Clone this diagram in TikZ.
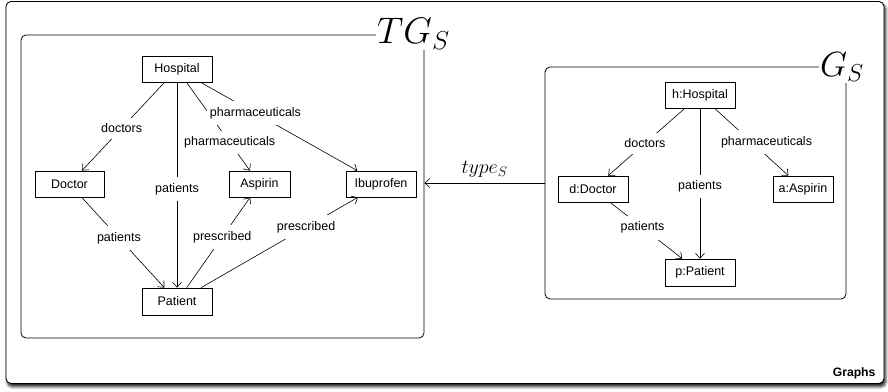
\RequirePackage{fix-cm}
\documentclass[tikz,border=0pt]{standalone}
\usepackage{fontspec}
\setmainfont{Liberation Sans}
\usetikzlibrary{arrows.meta,shadows.blur}

\tikzset{
  cls/.style={draw, line width=0.7pt, minimum height=26pt, inner sep=0pt,
    font=\fontsize{12.5}{14}\selectfont},
  lbl/.style={fill=white, inner xsep=3pt, inner ysep=6pt, font=\fontsize{12.5}{14}\selectfont},
  rel/.style={draw, line width=0.6pt, -{Straight Barb[length=5pt,width=9pt]}},
  graphbox/.style={draw, line width=0.8pt, rounded corners=5pt, inner sep=0pt},
  title/.style={fill=white, inner sep=1pt, anchor=base west},
}

\begin{document}
\begin{tikzpicture}[x=1pt,y=-1pt]
\useasboundingbox (0,0) rectangle (888,391);

% outer frame with its shadow
\draw[line width=0.9pt, rounded corners=5pt, fill=white,
  blur shadow={shadow xshift=1.5pt, shadow yshift=-3pt, shadow blur steps=6,
  shadow blur radius=3pt, shadow opacity=95}]
  (6,1.5) rectangle (884,383.5);
\node[anchor=east, font=\fontsize{12.2}{14}\selectfont\bfseries] (lab) at (879,373) {Graphs};

% ---------- type graph TG_S ----------
\node[graphbox, minimum width=403pt, minimum height=303pt] (TG) at (222.5,186.5) {};
\node[title] (tgt) at (376,43.5) {\fontsize{37}{40}\selectfont $TG_S$};

\node[cls, minimum width=70pt] (H) at (177,69) {Hospital};
\node[cls, minimum width=69pt] (D) at (69.5,184) {Doctor};
\node[cls, minimum width=61pt] (A) at (259.5,184) {Aspirin};
\node[cls, minimum width=70pt] (I) at (381,184) {Ibuprofen};
\node[cls, minimum width=70pt, minimum height=27pt] (P) at (177,301.5) {Patient};

\draw[rel] (H) -- node[lbl, pos=0.52] {doctors} (D);
\draw[rel] (H) -- node[lbl, pos=0.52] {patients} (P);
\draw[rel] (H) -- node[lbl, pos=0.68] {pharmaceuticals} (A);
\draw[rel] (H) -- node[lbl, pos=0.35] {pharmaceuticals} (I);
\draw[rel] (D) -- node[lbl, pos=0.45] {patients} (P);
\draw[rel] (P) -- node[lbl, pos=0.56] {prescribed} (A);
\draw[rel] (P) -- node[lbl, pos=0.67] {prescribed} (I);

% ---------- instance graph G_S ----------
\node[graphbox, minimum width=301pt, minimum height=232pt] (G) at (695.5,183) {};
\node[title] (gt) at (819,76.5) {\fontsize{35}{38}\selectfont $G_S$};

\node[cls, minimum width=70pt] (h) at (700,95) {h:Hospital};
\node[cls, minimum width=70pt] (d) at (593,189) {d:Doctor};
\node[cls, minimum width=60pt] (a) at (803,189) {a:Aspirin};
\node[cls, minimum width=70pt, minimum height=27pt] (p) at (700,272.5) {p:Patient};

\draw[rel] (h) -- node[lbl, pos=0.52] {doctors} (d);
\draw[rel] (h) -- node[lbl, pos=0.5, xshift=15pt] {pharmaceuticals} (a);
\draw[rel] (h) -- node[lbl, pos=0.52] {patients} (p);
\draw[rel] (d) -- node[lbl, pos=0.45] {patients} (p);

% typing morphism
\draw[rel] (G.west) -- node[above=2pt, font=\fontsize{20}{22}\selectfont] (ty) {$type_S$} (G.west -| TG.east);
\end{tikzpicture}
\end{document}
